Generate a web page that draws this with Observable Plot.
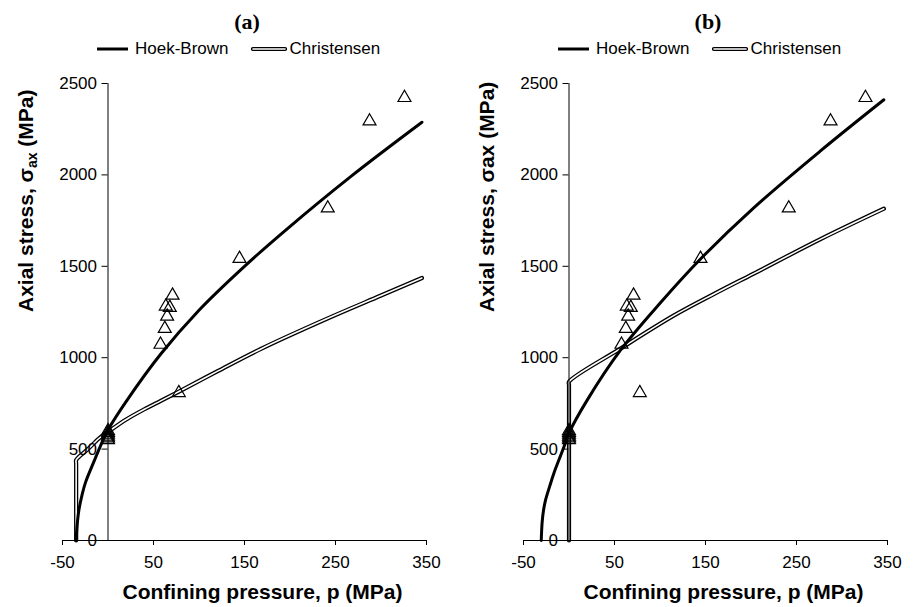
<!DOCTYPE html>
<html><head><meta charset="utf-8">
<script src="https://cdn.jsdelivr.net/npm/d3@7"></script>
<script src="https://cdn.jsdelivr.net/npm/@observablehq/plot@0.6"></script>
<style>
body{margin:0;background:#fff;}
#wrap{position:relative;width:916px;height:607px;font-family:"Liberation Sans",Arial,sans-serif;color:#000;overflow:hidden;}
.panel{position:absolute;top:0;width:458px;height:607px;}
.title{position:absolute;top:10px;transform:translateX(-50%);font-family:"Liberation Serif","Times New Roman",serif;font-weight:bold;font-size:22px;line-height:24px;}
.legend{position:absolute;top:39px;height:20px;display:flex;align-items:center;font-size:17px;line-height:20px;white-space:nowrap;}
.legend svg{display:block;}
.plot{position:absolute;top:65px;left:0;}
</style></head>
<body><div id="wrap"></div>
<script>
// ---- data ----
const xTicks = [-50, 50, 150, 250, 350];
const yTicks = [0, 500, 1000, 1500, 2000, 2500];

// experimental points (same in both panels)
const expP = [0, 0, 0, 0, 0, 0, 57.7, 62.4, 65, 63.5, 67.9, 70.9, 77.8, 144.5, 241.5, 287.4, 325.8];
const expS = [550, 560, 570, 580, 590, 600, 1072, 1159, 1226, 1281, 1274, 1341, 808, 1542, 1818, 2294, 2422];

// panel (a)
const hbA_p = [-35, -34, -32, -28.5, -24.7, -15.6, -4.6, 0, 21, 58, 100, 150, 195, 266, 345];
const hbA_s = [0, 80, 166, 250, 318, 430, 558, 605, 768, 1020, 1260, 1500, 1697, 1988, 2288];
const chA_p = [-35, -35, -35, -22, -10, 0, 20, 40, 58, 78, 120, 168, 241, 300, 345];
const chA_s = [0, 420, 440, 500, 558, 594, 662, 718, 764, 815, 925, 1048, 1214, 1340, 1436];

// panel (b)
const hbB_p = [-30.5, -29.5, -28, -25.8, -21, -16.7, -5.7, 0, 20, 56.6, 100, 144.5, 203, 277, 346];
const hbB_s = [0, 100, 165, 221, 300, 367, 510, 588, 768, 1041, 1298, 1540, 1820, 2134, 2411];
const chB_p = [0, 0, 0, 56.6, 115, 160, 203, 277, 346];
const chB_s = [0, 850, 868, 1050, 1230, 1350, 1460, 1650, 1815];

const zip = (p, s) => p.map((v, i) => ({p: v, s: s[i]}));
const expData = zip(expP, expS);

function legendHTML(){
  return `<svg width="33" height="8"><line x1="1" y1="4" x2="32" y2="4" stroke="#000" stroke-width="3"/></svg>
  <span style="margin-left:6px">Hoek-Brown</span>
  <svg width="36" height="8" style="margin-left:22px"><line x1="2" y1="4" x2="34" y2="4" stroke="#000" stroke-width="4.2" stroke-linecap="round"/><line x1="2" y1="4" x2="34" y2="4" stroke="#fff" stroke-width="1.6" stroke-linecap="round"/></svg>
  <span style="margin-left:3px">Christensen</span>`;
}

function makePanel(opts){
  const {left, title, titleX, legendX, hb, ch, mLeft, mRight, sub} = opts;
  const div = document.createElement("div");
  div.className = "panel";
  div.style.left = left + "px";
  div.innerHTML = `<div class="title" style="left:${titleX}px">${title}</div><div class="legend" style="left:${legendX}px">${legendHTML()}</div>`;
  const chart = Plot.plot({
    width: 458, height: 542,
    marginTop: 18, marginBottom: 67, marginLeft: mLeft, marginRight: mRight,
    style: {fontFamily: "'Liberation Sans', Arial, sans-serif", fontSize: "17px", color: "#000", background: "#fff", overflow: "visible"},
    x: {domain: [-50, 350], axis: null},
    y: {domain: [0, 2500], axis: null},
    marks: [
      Plot.line(ch, {x: "p", y: "s", stroke: "#000", strokeWidth: 4.2, curve: "catmull-rom", strokeLinecap: "round", strokeLinejoin: "round"}),
      Plot.line(ch, {x: "p", y: "s", stroke: "#fff", strokeWidth: 1.6, curve: "catmull-rom", strokeLinecap: "round", strokeLinejoin: "round"}),
      Plot.line(hb, {x: "p", y: "s", stroke: "#000", strokeWidth: 3, curve: "catmull-rom"}),
      Plot.dot(expData, {x: "p", y: "s", symbol: "triangle", r: 4.8, stroke: "#000", strokeWidth: 1.2, fill: "none"}),
      // x axis
      Plot.ruleY([0], {stroke: "#000", strokeWidth: 1}),
      Plot.axisX(xTicks, {tickSize: 5, tickPadding: 10, fontSize: 17, label: null, stroke: "#000", tickFormat: d => String(d)}),
      // y axis drawn at p = 0
      Plot.ruleX([0], {y1: 0, y2: 2500, stroke: "#000", strokeWidth: 1}),
      Plot.ruleY(yTicks, {y: d => d, x1: 0, x2: 0, insetLeft: -6, stroke: "#000"}),
      Plot.text(yTicks, {y: d => d, x: 0, dx: -11, text: d => String(d), textAnchor: "end", fontSize: 17, fill: "#000"}),
      // axis titles
      Plot.text(["Confining pressure, p (MPa)"], {frameAnchor: "bottom-left", dx: 60, dy: 52, textAnchor: "start", lineAnchor: "middle", fontSize: 21, fontWeight: "bold", fill: "#000"}),
      Plot.text(["Axial stress, σax (MPa)"], {frameAnchor: "left", dx: -36, rotate: -90, lineAnchor: "middle", fontSize: 21, fontWeight: "bold", fill: "#000", className: "ylab"})
    ]
  });
  chart.classList.add("plot");
  if (sub) {
    const t = chart.querySelector(".ylab text");
    if (t) {
      t.textContent = "";
      const ns = "http://www.w3.org/2000/svg";
      const a = document.createElementNS(ns, "tspan"); a.textContent = "Axial stress, σ";
      const b = document.createElementNS(ns, "tspan"); b.textContent = "ax"; b.setAttribute("font-size", "14"); b.setAttribute("dy", "4");
      const c = document.createElementNS(ns, "tspan"); c.textContent = " (MPa)"; c.setAttribute("dy", "-4");
      t.append(a, b, c);
    }
  }
  div.appendChild(chart);
  document.getElementById("wrap").appendChild(div);
}

makePanel({left: 0, title: "(a)", titleX: 247, legendX: 96, hb: zip(hbA_p, hbA_s), ch: zip(chA_p, chA_s), mLeft: 62, mRight: 32, sub: true});
makePanel({left: 458, title: "(b)", titleX: 250, legendX: 99, hb: zip(hbB_p, hbB_s), ch: zip(chB_p, chB_s), mLeft: 65, mRight: 29, sub: false});
</script></body></html>
